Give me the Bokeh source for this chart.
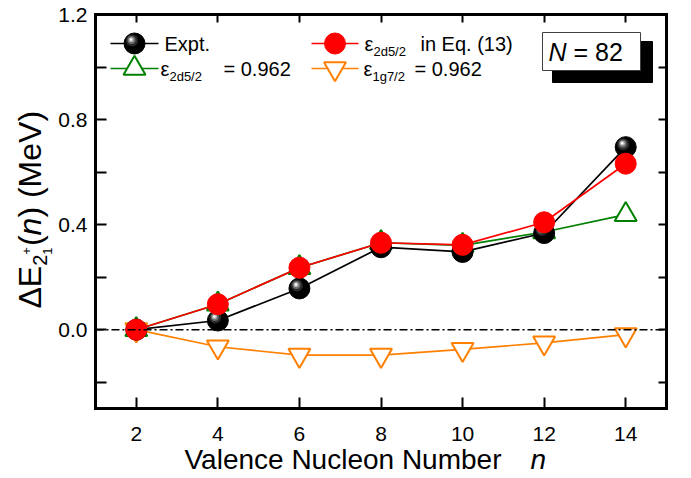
import math
from bokeh.plotting import figure
from bokeh.models import Range1d, LinearAxis, FixedTicker, Label, NumeralTickFormatter
from bokeh.transform import dodge
from bokeh.embed import file_html
from bokeh.resources import INLINE

# ---------------- data ----------------
n_vals = [2, 4, 6, 8, 10, 12, 14]
expt = [0.000, 0.035, 0.157, 0.314, 0.296, 0.368, 0.695]
eps_eq13 = [0.000, 0.097, 0.236, 0.331, 0.323, 0.409, 0.632]
eps_2d52 = [0.000, 0.097, 0.236, 0.331, 0.321, 0.372, 0.438]
eps_1g72 = [0.000, -0.065, -0.097, -0.097, -0.075, -0.050, -0.019]

x_ticks = [2, 4, 6, 8, 10, 12, 14]
y_major = [0.0, 0.4, 0.8, 1.2]
y_minor = [-0.2, 0.2, 0.6, 1.0]

# ---------------- layout ----------------
W, H = 691, 478
FL, FR, FT, FB = 95, 666, 14, 408      # plot box in canvas pixels
X0, X1 = 1.0, 15.0                      # axis limits
Y0, Y1 = -0.3, 1.2
SX = (FR - FL) / (X1 - X0)
SY = (FB - FT) / (Y1 - Y0)


def dx(px):
    return X0 + (px - FL) / SX


def dy(py):
    return Y1 - (py - FT) / SY


FONT = "Liberation Sans"
CW = {' ': 278, '(': 333, ')': 333, 'M': 833, 'e': 556, 'V': 667, 'Δ': 668, 'E': 667,
      'n': 556, '+': 584, '.': 278, '=': 584, 'a': 556, 'l': 222, 'c': 500, 'N': 722,
      'u': 556, 'o': 556, 'm': 833, 'b': 556, 'r': 333, 'x': 500, 'p': 556, 't': 278,
      'i': 222, 'q': 556, 'd': 556, 'g': 556, '/': 278, 'ε': 446}


def tw(s, size):
    return sum(CW.get(c, 556) for c in s) / 1000.0 * size


# the frame covers the whole canvas; axes sit at fixed data locations
p = figure(width=W, height=H, output_backend="svg", toolbar_location=None,
           x_range=Range1d(dx(0), dx(W)), y_range=Range1d(dy(H), dy(0)),
           min_border=0, x_axis_location=None, y_axis_location=None)
p.grid.visible = False
p.outline_line_color = None
p.background_fill_color = "white"
p.border_fill_color = "white"

bottom = LinearAxis(ticker=FixedTicker(ticks=x_ticks), fixed_location=Y0, bounds=(X0, X1))
top = LinearAxis(ticker=FixedTicker(ticks=x_ticks), fixed_location=Y1, bounds=(X0, X1))
left = LinearAxis(ticker=FixedTicker(ticks=y_major, minor_ticks=y_minor),
                  formatter=NumeralTickFormatter(format="0.0"),
                  fixed_location=X0, bounds=(Y0, Y1))
right = LinearAxis(ticker=FixedTicker(ticks=y_major, minor_ticks=y_minor),
                   fixed_location=X1, bounds=(Y0, Y1))
p.add_layout(bottom, "below")
p.add_layout(left, "left")
p.add_layout(top, "above")
p.add_layout(right, "right")

for ax in [bottom, left, top, right]:
    ax.axis_line_color = "black"
    ax.axis_line_width = 3
    ax.axis_line_cap = "square"
    ax.major_tick_out = 0
    ax.minor_tick_out = 0
    ax.major_tick_line_width = 2
    ax.minor_tick_line_width = 2
    ax.major_tick_line_color = "black"
    ax.minor_tick_line_color = "black"
    ax.major_label_text_font = FONT
    ax.major_label_text_color = "black"
for ax in [bottom, left]:
    ax.major_tick_in = 11
    ax.minor_tick_in = 11
    ax.major_label_text_font_size = "21px"
bottom.major_label_standoff = 18
left.major_label_standoff = 8
for ax in [top, right]:
    ax.major_tick_in = 8
    ax.minor_tick_in = 8
    ax.major_label_text_font_size = "1px"
    ax.major_label_text_color = None
    ax.major_label_standoff = 0

GREEN = "#008000"
ORANGE = "#FF8000"
RED = "#FF0000"
MS = 21
TS = 22
LW = 1.7


def sphere(xs, ys):
    p.scatter(x=xs, y=ys, size=MS, marker="circle", fill_color="black", line_color="black")
    layers = [(12, "#2a2a2a", 2.5, 3.0), (8, "#6a6a6a", 3.0, 3.5),
              (5, "#b0b0b0", 3.3, 3.8), (2.5, "#ffffff", 3.5, 4.0)]
    for s, c, ox, oy in layers:
        p.scatter(x=dodge("x", -ox / SX, range=p.x_range),
                  y=dodge("y", oy / SY, range=p.y_range),
                  source=dict(x=list(xs), y=list(ys)),
                  size=s, marker="circle", fill_color=c, line_color=None)


# series: green, orange, black, red
p.line(n_vals, eps_2d52, line_color=GREEN, line_width=LW)
p.scatter(n_vals, eps_2d52, marker="triangle", size=TS, fill_color="white",
          line_color=GREEN, line_width=2)
p.line(n_vals, eps_1g72, line_color=ORANGE, line_width=LW)
p.scatter(n_vals, eps_1g72, marker="inverted_triangle", size=TS, fill_color="white",
          line_color=ORANGE, line_width=2)
p.line(n_vals, expt, line_color="black", line_width=LW)
sphere(n_vals, expt)
p.line(n_vals, eps_eq13, line_color=RED, line_width=LW)
p.scatter(n_vals, eps_eq13, marker="circle", size=MS, fill_color=RED, line_color=RED)

# zero reference line (dash-dot) across the plot box
p.segment(x0=[X0], x1=[X1], y0=[0.0], y1=[0.0], line_color="black", line_width=1.5,
          line_dash="8 3 2 3")

# ---------------- legend ----------------
R1, R2 = 43, 68
C1a, C1b, C2a, C2b = 110, 158, 311, 358
for (xa, xb, yr, col) in [(C1a, C1b, R1, "black"), (C2a, C2b, R1, RED),
                          (C1a, C1b, R2, GREEN), (C2a, C2b, R2, ORANGE)]:
    p.line([dx(xa), dx(xb)], [dy(yr), dy(yr)], line_color=col, line_width=LW)
sphere([dx((C1a + C1b) / 2)], [dy(R1)])
p.scatter([dx((C2a + C2b) / 2)], [dy(R1)], marker="circle", size=MS, fill_color=RED, line_color=RED)
p.scatter([dx((C1a + C1b) / 2)], [dy(R2)], marker="triangle", size=TS, fill_color="white",
          line_color=GREEN, line_width=2)
p.scatter([dx((C2a + C2b) / 2)], [dy(R2)], marker="inverted_triangle", size=TS,
          fill_color="white", line_color=ORANGE, line_width=2)

LF = 20
SF = 13
K = 0.33   # baseline correction (fraction of font size)


def lab(px, py, text, size, style="normal", angle=0.0):
    # px, py: start of the text and its baseline, in canvas pixels
    if angle == 0.0:
        py = py - K * size
    else:
        px = px - K * size
    p.add_layout(Label(x=dx(px), y=dy(py), text=text, text_font=FONT,
                       text_font_size=f"{size}px", text_font_style=style,
                       text_color="black", text_baseline="alphabetic",
                       text_align="left", angle=angle))


lab(164, R1 + 7, "Expt.", LF)
lab(364, R1 + 7, "ε", LF)
lab(364 + tw("ε", LF), R1 + 12, "2d5/2", SF)
lab(420, R1 + 7, "in Eq. (13)", LF)
lab(160, R2 + 7, "ε", LF)
lab(160 + tw("ε", LF), R2 + 12, "2d5/2", SF)
lab(223, R2 + 7, "= 0.962", LF)
lab(363, R2 + 7, "ε", LF)
lab(363 + tw("ε", LF), R2 + 12, "1g7/2", SF)
lab(414, R2 + 7, "= 0.962", LF)

# ---------------- N = 82 box ----------------
p.quad(left=[dx(552)], right=[dx(652)], top=[dy(41)], bottom=[dy(82)],
       fill_color="black", line_color="black")
p.quad(left=[dx(542)], right=[dx(640)], top=[dy(32)], bottom=[dy(70)],
       fill_color="white", line_color="#404040", line_width=1)
NF = 25
lab(548, 60, "N", NF, style="italic")
lab(548 + tw("N ", NF), 60, "= 82", NF)

# ---------------- axis titles ----------------
XF = 28
xt = "Valence Nucleon Number"
lab(184, 468, xt, XF)
lab(530, 468, "n", XF, style="italic")

YF = 32
yb = 40
ang = math.pi / 2
ycur = 308
lab(yb, ycur, "ΔE", YF, angle=ang)
ycur -= tw("ΔE", YF)
lab(yb + 6, ycur, "2", 20, angle=ang)
ycur -= tw("2", 20)
lab(yb + 11, ycur, "1", 13, angle=ang)
lab(yb - 10, ycur, "+", 13, angle=ang)
ycur -= tw("+", 13) + 1
lab(yb, ycur, "(", YF, angle=ang)
ycur -= tw("(", YF)
lab(yb, ycur, "n", YF, style="italic", angle=ang)
ycur -= tw("n", YF)
lab(yb, ycur, ") (MeV)", YF, angle=ang)

open("out.html", "w").write(file_html(p, INLINE))
